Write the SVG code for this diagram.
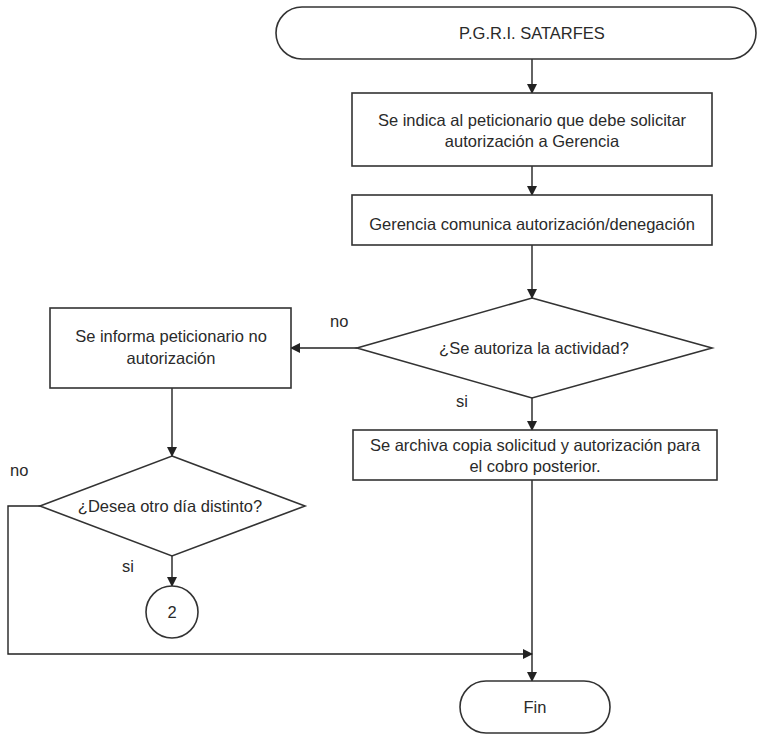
<svg xmlns="http://www.w3.org/2000/svg" width="778" height="735" viewBox="0 0 778 735">
<defs>
<marker id="ah" markerWidth="10" markerHeight="10" refX="9" refY="5" orient="auto" markerUnits="userSpaceOnUse">
<path d="M0,0 L10,5 L0,10 Z" fill="#222"/>
</marker>
<style>
.s{fill:#fff;stroke:#333;stroke-width:1.6}
.t{font-family:"Liberation Sans",Arial,sans-serif;font-size:16.5px;fill:#2a2a2a;text-anchor:middle}
.l{font-family:"Liberation Sans",Arial,sans-serif;font-size:16.5px;fill:#2a2a2a}
.c{fill:none;stroke:#222;stroke-width:1.4}
</style>
</defs>
<rect width="778" height="735" fill="#fff"/>
<g id="connectors">
<line class="c" x1="532" y1="59" x2="532" y2="93" marker-end="url(#ah)"/>
<line class="c" x1="532" y1="166" x2="532" y2="195" marker-end="url(#ah)"/>
<line class="c" x1="532" y1="245" x2="532" y2="298" marker-end="url(#ah)"/>
<line class="c" x1="357" y1="348" x2="291" y2="348" marker-end="url(#ah)"/>
<line class="c" x1="532" y1="398" x2="532" y2="430" marker-end="url(#ah)"/>
<line class="c" x1="172" y1="388" x2="172" y2="456" marker-end="url(#ah)"/>
<line class="c" x1="172" y1="556" x2="172" y2="586" marker-end="url(#ah)"/>
<polyline class="c" points="40,506 8,506 8,654 532,654" marker-end="url(#ah)"/>
<line class="c" x1="532" y1="480" x2="532" y2="681" marker-end="url(#ah)"/>
<text class="l" x="330" y="327">no</text>
<text class="l" x="456" y="407">si</text>
<text class="l" x="10" y="476">no</text>
<text class="l" x="122" y="572">si</text>
</g>
<g id="start">
<rect class="s" x="276" y="7" width="480" height="52" rx="26"/>
<text class="t" x="532" y="39">P.G.R.I. SATARFES</text>
</g>
<g id="box1">
<rect class="s" x="352" y="93" width="360" height="73"/>
<text class="t" x="532" y="126">Se indica al peticionario que debe solicitar</text>
<text class="t" x="532" y="147">autorización a Gerencia</text>
</g>
<g id="box2">
<rect class="s" x="352" y="195" width="360" height="50"/>
<text class="t" x="532" y="230">Gerencia comunica autorización/denegación</text>
</g>
<g id="decision1">
<polygon class="s" points="532,298 712,348 532,398 357,348"/>
<text class="t" x="534" y="354">¿Se autoriza la actividad?</text>
</g>
<g id="box-no">
<rect class="s" x="50" y="308" width="241" height="80"/>
<text class="t" x="171" y="342">Se informa peticionario no</text>
<text class="t" x="171" y="364">autorización</text>
</g>
<g id="box3">
<rect class="s" x="353" y="430" width="364" height="50"/>
<text class="t" x="535" y="451">Se archiva copia solicitud y autorización para</text>
<text class="t" x="535" y="472">el cobro posterior.</text>
</g>
<g id="decision2">
<polygon class="s" points="172,456 305,506 172,556 40,506"/>
<text class="t" x="170" y="512">¿Desea otro día distinto?</text>
</g>
<g id="connector2">
<ellipse class="s" cx="172" cy="612" rx="26" ry="26"/>
<text class="t" x="172" y="618">2</text>
</g>
<g id="end">
<rect class="s" x="460" y="681" width="150" height="52" rx="26"/>
<text class="t" x="535" y="713">Fin</text>
</g>
</svg>
